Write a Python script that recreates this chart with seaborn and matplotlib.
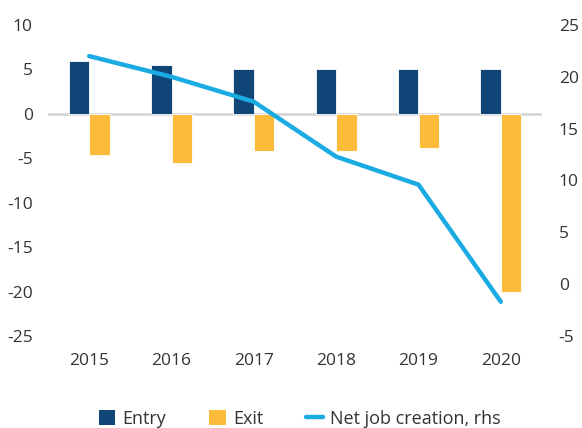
import numpy as np
import pandas as pd
import matplotlib
matplotlib.use("Agg")
import matplotlib.pyplot as plt
from matplotlib.patches import Patch
from matplotlib.lines import Line2D
import seaborn as sns

# Firm entry and exit rates (lhs) and net job creation (rhs)
years = ["2015", "2016", "2017", "2018", "2019", "2020"]
entry = [5.9, 5.5, 5.1, 5.1, 5.1, 5.1]
exit_ = [-4.6, -5.5, -4.2, -4.2, -3.8, -20.0]
net_job_creation = [22.0, 20.0, 17.6, 12.3, 9.6, -1.7]

series_names = ["Entry", "Exit"]
line_name = "Net job creation, rhs"

NAVY = "#0f4677"
YELLOW = "#fdbb3b"
CYAN = "#1aabe2"
TEXT = "#333333"

sns.set_theme(style="white")
plt.rcParams["font.family"] = ["Open Sans", "DejaVu Sans"]
plt.rcParams["axes.unicode_minus"] = False

df = pd.DataFrame({
    "year": years * 2,
    "value": entry + exit_,
    "series": [series_names[0]] * len(years) + [series_names[1]] * len(years),
})

fig = plt.figure(figsize=(5.82, 4.28), dpi=100)
ax = fig.add_axes([48 / 582, 1 - 336 / 428, (542 - 48) / 582, (336 - 25) / 428])

sns.barplot(data=df, x="year", y="value", hue="series", order=years,
            hue_order=series_names, palette=[NAVY, YELLOW], saturation=1,
            width=0.5, edgecolor="white", linewidth=0.6, legend=False, ax=ax)

ax.axhline(0, color="#d4d4d4", lw=1.8, zorder=0.5)
ax.set_ylim(-25, 10)
ax.set_yticks(np.arange(-25, 11, 5))
ax.set_xlim(-0.5, len(years) - 0.5)
ax.set_xlabel("")
ax.set_ylabel("")

ax2 = ax.twinx()
sns.lineplot(x=np.arange(len(years)), y=net_job_creation, ax=ax2, color=CYAN,
             lw=3.2, solid_capstyle="round", solid_joinstyle="round")
ax2.set_ylim(-5, 25)
ax2.set_yticks(np.arange(-5, 26, 5))
ax2.set_xlim(-0.5, len(years) - 0.5)

for a in (ax, ax2):
    for s in a.spines.values():
        s.set_visible(False)
    a.tick_params(length=0, labelsize=12.5, colors=TEXT)
    a.grid(False)
ax.tick_params(axis="y", pad=11)
ax.tick_params(axis="x", pad=12)
ax2.tick_params(axis="y", pad=12)

handles = [
    Patch(facecolor=NAVY, edgecolor="none", label=series_names[0]),
    Patch(facecolor=YELLOW, edgecolor="none", label=series_names[1]),
    Line2D([0], [0], color=CYAN, lw=3.2, solid_capstyle="round", label=line_name),
]
fig.legend(handles=handles, loc="center", bbox_to_anchor=(0.515, 0.022), ncol=3,
           frameon=False, fontsize=13, handlelength=0.9, handleheight=0.9,
           handletextpad=0.4, columnspacing=2.4, labelcolor=TEXT)

fig.savefig("out.png", dpi=100)
